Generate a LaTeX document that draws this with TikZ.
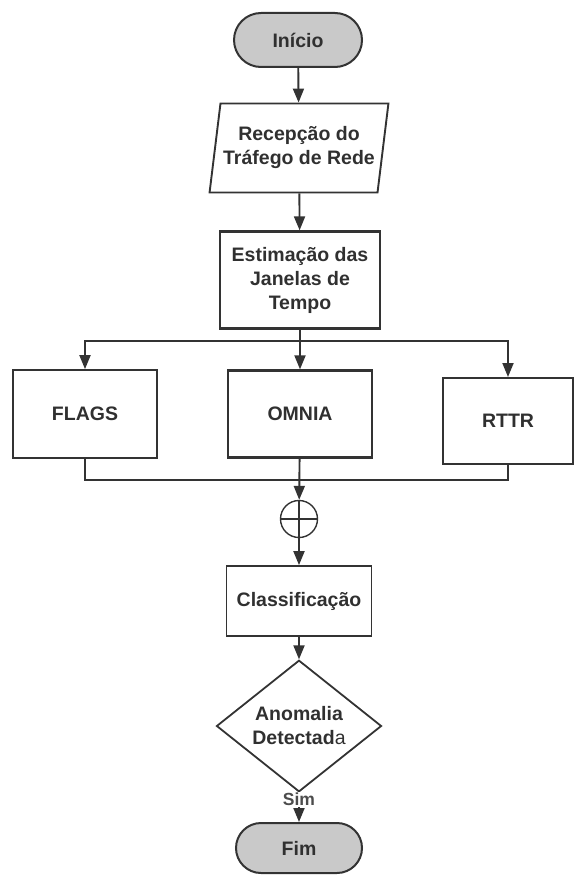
\documentclass[tikz,border=0pt]{standalone}
\usepackage{fontspec}
\setmainfont{Liberation Sans}
\usepackage{xcolor}
\usetikzlibrary{arrows.meta,shapes.geometric,shapes.misc}
\definecolor{linegray}{HTML}{333333}
\definecolor{textgray}{HTML}{303030}
\definecolor{termgray}{HTML}{C9C9C9}

\begin{document}
\begin{tikzpicture}[x=1pt,y=-1pt,
	every node/.style={inner sep=0pt, align=center, text=textgray,
		font=\fontsize{19.5}{24}\selectfont\bfseries},
	flow/.style={draw=linegray, line width=1.9pt},
	arr/.style={flow, -{Triangle[width=11pt,length=14pt]}},
	terminal/.style={rounded rectangle, draw=linegray, line width=2pt, fill=termgray,
		minimum width=128pt, minimum height=54pt},
	procbox/.style={rectangle, draw=linegray, line width=1.8pt},
	inbox/.style={trapezium, trapezium left angle=76, trapezium right angle=104,
		trapezium stretches=true, draw=linegray, line width=1.9pt,
		minimum width=179pt, minimum height=89pt},
	decbox/.style={diamond, draw=linegray, line width=1.8pt,
		minimum width=165pt, minimum height=106pt}]
	\useasboundingbox (0,0) rectangle (575,875);
	\node [terminal] (ini) at (298,40) {Início};
	\node [inbox] (rec) at (299,148) {Recepção do\\Tráfego de Rede};
	\node [procbox, line width=2.3pt, minimum width=160pt, minimum height=97pt] (est) at (300,280)
		{Estimação das\\Janelas de\\Tempo};
	\node [procbox, minimum width=144pt, minimum height=88pt] (flags) at (85,414) {FLAGS};
	\node [procbox, line width=2.3pt, minimum width=144pt, minimum height=87pt] (omnia) at (300,414) {OMNIA};
	\node [procbox, line width=2pt, minimum width=130pt, minimum height=86pt] (rttr) at (508,421) {RTTR};
	\coordinate (split) at (300,341);
	\coordinate (merge) at (300,480);
	\node [circle, draw=linegray, line width=1.4pt, minimum size=37pt] (sum) at (299,519) {};
	\draw [linegray, line width=1.2pt] (sum.north) -- (sum.south) (sum.west) -- (sum.east);
	\node [procbox, minimum width=145pt, minimum height=70pt] (cls) at (299,601) {Classificação};
	\node [decbox] (dec) at (299,726) {Anomalia\\Detectad\textmd{a}};
	\node [terminal, minimum width=126pt, minimum height=50pt] (fim) at (299,848) {Fim};

	\draw [arr] (ini) -- (rec);
	\draw [arr] (rec) -- (est);
	\draw [flow] (est) -- (split);
	\draw [arr] (split) -| (flags);
	\draw [arr] (split) -- (omnia);
	\draw [arr] (split) -| (rttr);
	\draw [flow] (flags) |- (merge);
	\draw [flow] (rttr) |- (merge);
	\draw [arr] (omnia) -- (sum);
	\draw [arr] (sum) -- (cls);
	\draw [arr] (cls) -- (dec);
	\draw [arr] (dec) -- node [pos=0.24, fill=white, inner sep=1pt,
		font=\fontsize{17.5}{20}\selectfont\bfseries, text=black!70] {Sim} (fim);
\end{tikzpicture}
\end{document}
